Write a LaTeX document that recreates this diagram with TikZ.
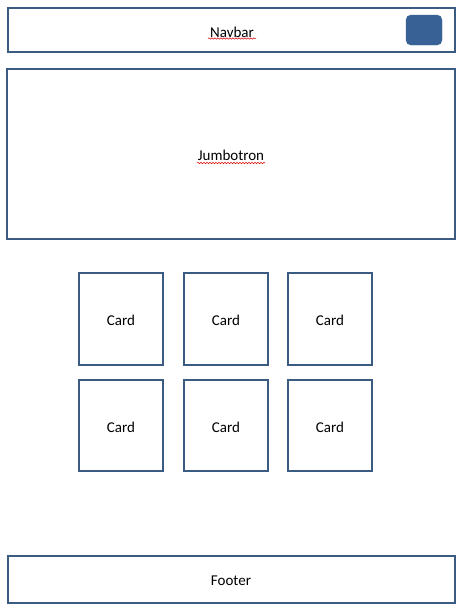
\documentclass[tikz,border=0pt]{standalone}
\usepackage{fontspec}
\setmainfont{Carlito}
\usetikzlibrary{decorations.pathmorphing}
\definecolor{edgeblue}{HTML}{3B5B82}
\definecolor{btnblue}{HTML}{386296}
\tikzset{
  box/.style={draw=edgeblue, line width=2pt, fill=white, inner sep=0pt},
  lbl/.style={font=\fontsize{15}{17}\selectfont, inner sep=0pt},
  squig/.style={draw=red!85!black, line width=0.5pt, decorate, decoration={snake, segment length=3pt, amplitude=0.7pt}}
}
\begin{document}
\begin{tikzpicture}[x=1pt,y=-1pt]
\useasboundingbox (0,0) rectangle (461,614);
% navbar
\node[box, minimum width=447pt, minimum height=44pt] (navbar) at (231.5,30) {};
\node[lbl] (navtext) at (232,32) {Navbar};
\node[fill=btnblue, draw=btnblue, rounded corners=5pt, minimum width=36pt, minimum height=30pt, inner sep=0pt] (btn) at (424,30) {};
\draw[squig] (208,38.5) -- (256,38.5);
% jumbotron
\node[box, minimum width=448pt, minimum height=170pt] (jumbo) at (231,154) {};
\node[lbl] (jumbotext) at (231,155.5) {Jumbotron};
\draw[squig] (197,163) -- (265,163);
% cards
\foreach \cx/\nm in {121/a,226/b,330/c}{
  \node[box, minimum width=84pt, minimum height=92pt] (card1\nm) at (\cx,318.5) {};
  \node[lbl] (card1\nm t) at (\cx,320.5) {Card};
  \node[box, minimum width=84pt, minimum height=91pt] (card2\nm) at (\cx,425) {};
  \node[lbl] (card2\nm t) at (\cx,427) {Card};
}
% footer
\node[box, minimum width=447pt, minimum height=47pt] (footer) at (231.5,579) {};
\node[lbl] (footertext) at (231,580.5) {Footer};
\end{tikzpicture}
\end{document}
